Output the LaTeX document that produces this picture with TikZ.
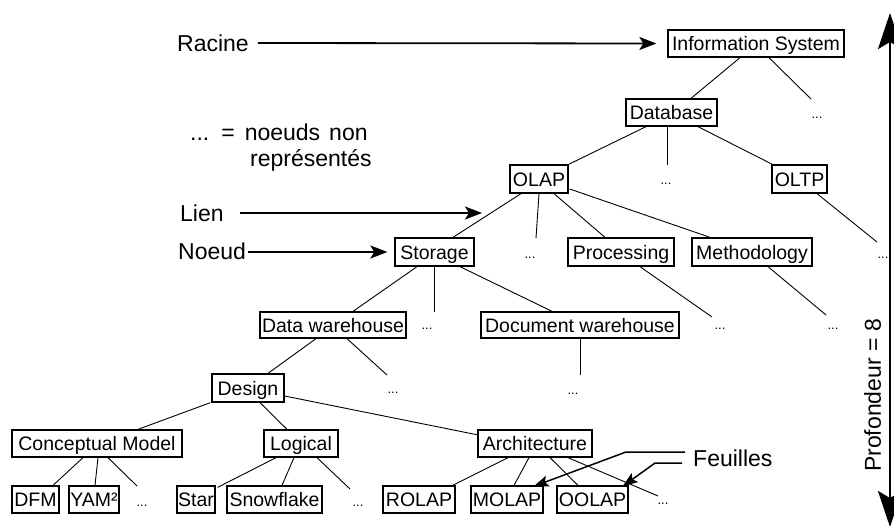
\documentclass[tikz,border=0pt]{standalone}
\usepackage{fontspec}
\setmainfont{Liberation Sans}
\usetikzlibrary{arrows.meta,calc}
\tikzset{
  box/.style={draw, line width=1.3pt, inner xsep=1pt, inner ysep=0pt,
    minimum height=27pt, text height=14pt, text depth=0pt,
    font=\fontsize{19.5}{22}\selectfont},
  dotn/.style={inner sep=0pt, text height=2pt, text depth=0pt,
    font=\fontsize{13}{14}\selectfont},
  lbl/.style={inner sep=0pt, font=\fontsize{23}{26}\selectfont},
  link/.style={line width=0.9pt},
  ptr/.style={line width=1.8pt, -{Stealth[length=17pt,width=13pt,inset=4pt]}},
  leafptr/.style={line width=1.5pt, -{Stealth[length=15pt,width=11pt,inset=3pt]}},
}
\begin{document}
\begin{tikzpicture}[x=1pt,y=-1pt]
\useasboundingbox (0,0) rectangle (894,525);
\clip (0,0) rectangle (894,525);
% boxes
\node[box, minimum width=176pt] (is) at (756,43.5) {Information System};
\node[box, minimum width=91pt] (db) at (671.5,112.5) {Database};
\node[box, minimum width=58pt, minimum height=28pt] (olap) at (539,179) {OLAP};
\node[box, minimum width=55pt, minimum height=28pt] (oltp) at (799.5,179) {OLTP};
\node[box, minimum width=79pt, minimum height=28pt] (st) at (434.5,252) {Storage};
\node[box, minimum width=106pt, minimum height=28pt] (proc) at (621,252) {Processing};
\node[box, minimum width=120pt, minimum height=28pt] (meth) at (752,252) {Methodology};
\node[box, minimum width=146pt, minimum height=26pt] (dw) at (333,325) {Data warehouse};
\node[box, minimum width=198pt, minimum height=26pt] (docw) at (580,325) {Document warehouse};
\node[box, minimum width=72pt, minimum height=28pt] (des) at (248,388) {Design};
\node[box, minimum width=170pt] (cm) at (97,443.5) {Conceptual Model};
\node[box, minimum width=74pt] (log) at (301,443.5) {Logical};
\node[box, minimum width=114pt] (arch) at (535,443.5) {Architecture};
\node[box, minimum width=47pt] (dfm) at (35.5,499.5) {DFM};
\node[box, minimum width=50pt] (yam) at (94,499.5) {YAM²};
\node[box, minimum width=38pt] (star) at (196,499.5) {Star};
\node[box, minimum width=95pt] (snow) at (274.5,499.5) {Snowflake};
\node[box, minimum width=72pt] (rolap) at (419,499.5) {ROLAP};
\node[box, minimum width=72pt] (molap) at (507,499.5) {MOLAP};
\node[box, minimum width=71pt] (oolap) at (592.5,499.5) {OOLAP};
% dots
\node[dotn] (d1) at (817,117) {...};
\node[dotn] (d2) at (666,183) {...};
\node[dotn] (d3) at (530,257) {...};
\node[dotn] (d4) at (883,257) {...};
\node[dotn] (d5) at (427,328) {...};
\node[dotn] (d6) at (720,328) {...};
\node[dotn] (d7) at (833,328) {...};
\node[dotn] (d8) at (393,392) {...};
\node[dotn] (d9) at (573,393) {...};
\node[dotn] (d10) at (142,505) {...};
\node[dotn] (d11) at (358,505) {...};
\node[dotn] (d12) at (663,503) {...};
% links
\draw[link] ([shift={(-16,0)}]is.south) -- ([shift={(19.5,0)}]db.north);
\draw[link] ([shift={(13,0)}]is.south) -- ([shift={(-6,-18)}]d1.center);
\draw[link] ([shift={(-25.5,0)}]db.south) -- (olap.north east);
\draw[link] ([shift={(-4.5,0)}]db.south) -- ([shift={(1,-18)}]d2.center);
\draw[link] ([shift={(26.5,0)}]db.south) -- ([shift={(1,0)}]oltp.north west);
\draw[link] ([shift={(-18,0)}]olap.south) -- ([shift={(18.5,0)}]st.north);
\draw[link] (olap.south) -- ([shift={(6,-19)}]d3.center);
\draw[link] ([shift={(15,0)}]olap.south) -- ([shift={(-16,0)}]proc.north);
\draw[link] ([shift={(1,10)}]olap.east) -- ([shift={(-42,0)}]meth.north);
\draw[link] ([shift={(17.5,0)}]oltp.south) -- ([shift={(-6,-15)}]d4.center);
\draw[link] ([shift={(-17.5,0)}]st.south) -- ([shift={(20,0)}]dw.north);
\draw[link] ([shift={(-0.5,0)}]st.south) -- ([shift={(7,-16)}]d5.center);
\draw[link] ([shift={(25.5,0)}]st.south) -- ([shift={(-28,0)}]docw.north);
\draw[link] ([shift={(19,0)}]proc.south) -- ([shift={(-8,-11)}]d6.center);
\draw[link] ([shift={(16,0)}]meth.south) -- ([shift={(-7,-13)}]d7.center);
\draw[link] ([shift={(-17,0)}]dw.south) -- ([shift={(20,0)}]des.north);
\draw[link] ([shift={(14,0)}]dw.south) -- ([shift={(-6,-17)}]d8.center);
\draw[link] (docw.south) -- ([shift={(7,-18)}]d9.center);
\draw[link] ([shift={(-1,0)}]des.south west) -- ([shift={(41,0)}]cm.north);
\draw[link] ([shift={(12,0)}]des.south) -- ([shift={(-14,0)}]log.north);
\draw[link] ([shift={(0,8)}]des.east) -- ([shift={(1,-8.5)}]arch.west);
\draw[link] ([shift={(-14,0)}]cm.south) -- ([shift={(17.5,0)}]dfm.north);
\draw[link] ([shift={(1,0)}]cm.south) -- ([shift={(1,0)}]yam.north);
\draw[link] ([shift={(11,0)}]cm.south) -- ([shift={(-5,-19)}]d10.center);
\draw[link] ([shift={(-25,0)}]log.south) -- ([shift={(2,2)}]star.north east);
\draw[link] ([shift={(-7,0)}]log.south) -- ([shift={(7.5,0)}]snow.north);
\draw[link] ([shift={(16,0)}]log.south) -- ([shift={(-8,-16)}]d11.center);
\draw[link] ([shift={(-27,0)}]arch.south) -- ([shift={(-3,0)}]rolap.north east);
\draw[link] ([shift={(-6,0)}]arch.south) -- ([shift={(7,0)}]molap.north);
\draw[link] ([shift={(15,0)}]arch.south) -- ([shift={(-14.5,0)}]oolap.north);
\draw[link] ([shift={(33,0)}]arch.south) -- ([shift={(-5,-7)}]d12.center);
% labels
\node[lbl, anchor=base west] (rac) at (177,51) {Racine};
\node[lbl, anchor=base west] (note1) at (190,140) {...\hspace{12pt}=\hspace{10pt}noeuds\hspace{9pt}non};
\node[lbl, anchor=base west] (note2) at (250,166) {représentés};
\node[lbl, anchor=base west] (lien) at (180,221) {Lien};
\node[lbl, anchor=base west] (noe) at (178,259) {Noeud};
\node[lbl, anchor=base west] (feu) at (693,466) {Feuilles};
\node[lbl, rotate=90, text height=16.5pt, text depth=0pt] (prof) at (872.5,395.5) {Profondeur = 8};
\coordinate (lk) at (482,213);
% pointers
\draw[ptr] ([shift={(9,-8)}]rac.base east) -- ([shift={(-11,0)}]is.west);
\draw[ptr] ([shift={(16,-8)}]lien.base east) -- (lk);
\draw[ptr] ([shift={(2,-7)}]noe.base east) -- ([shift={(-7,0)}]st.west);
\draw[leafptr] ([shift={(-8,-14)}]feu.base west) -- ++(-59,0) -- ([shift={(-10,1)}]molap.north east);
\draw[leafptr] ([shift={(-11,-3)}]feu.base west) -- ++(-27,0) -- ([shift={(-6,1)}]oolap.north east);
% depth arrow
\coordinate (vtop) at (890,13);
\coordinate (vbot) at (890,527);
\draw[line width=2.6pt, {Stealth[length=36pt,width=24pt,inset=7pt]}-{Stealth[length=36pt,width=24pt,inset=7pt]}] (vtop) -- (vbot);
\end{tikzpicture}
\end{document}
